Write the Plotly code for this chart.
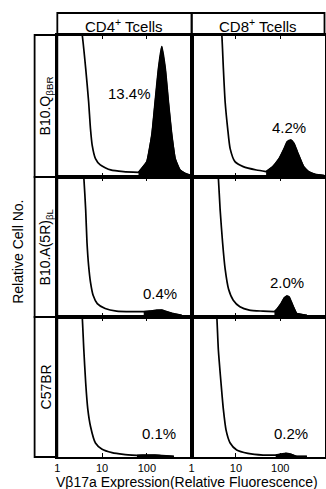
import math
import plotly.graph_objects as go

# ---------------- data ----------------
col_titles = ["CD4<sup>+</sup> Tcells", "CD8<sup>+</sup> Tcells"]
row_titles = ["B10.Q<sub>βBR</sub>", "B10.A(5R)<sub>βL</sub>", "C57BR"]
tick_vals = [1, 10, 100]
tick_text = ["1", "10", "100"]
pct_labels = ["13.4%", "4.2%", "0.4%", "2.0%", "0.1%", "0.2%"]
pct_x = [40, 160, 195, 145, 182, 174]
pct_y = [0.59, 0.35, 0.17, 0.25, 0.165, 0.165]

# panel 1: CD4, B10.Q
neg1_x = [3.3, 3.6, 4.3, 5.0, 5.5, 6.0, 7.1, 9.1, 15.5, 30, 65]
neg1_y = [1.08, 1.0, 0.765, 0.53, 0.34, 0.225, 0.13, 0.085, 0.05, 0.038, 0.033]
pos1_x = [65, 100, 129, 153, 182, 215, 257, 302, 360, 427, 550, 708, 912]
pos1_y = [0.033, 0.108, 0.296, 0.53, 0.765, 0.918, 0.765, 0.53, 0.296, 0.131, 0.049, 0.026, 0.014]
# panel 2: CD8, B10.Q
neg2_x = [4.5, 4.8, 5.2, 5.7, 6.5, 7.4, 9.5, 14.6, 29, 48]
neg2_y = [1.08, 1.0, 0.765, 0.53, 0.343, 0.2, 0.108, 0.073, 0.049, 0.038]
pos2_x = [48, 68, 95, 123, 145, 174, 204, 243, 288, 339, 437, 617, 1000]
pos2_y = [0.038, 0.073, 0.131, 0.2, 0.249, 0.26, 0.237, 0.178, 0.12, 0.073, 0.038, 0.019, 0.01]
# panel 3: CD4, B10.A(5R)
neg3_x = [3.7, 3.9, 4.3, 4.6, 5.0, 5.5, 6.3, 7.8, 11.7, 21, 50, 85]
neg3_y = [1.08, 1.0, 0.765, 0.53, 0.366, 0.249, 0.155, 0.096, 0.061, 0.042, 0.038, 0.038]
pos3_x = [85, 117, 166, 214, 275, 363, 600]
pos3_y = [0.038, 0.042, 0.049, 0.049, 0.038, 0.026, 0.012]
# panel 4: CD8, B10.A(5R)
neg4_x = [3.8, 4.0, 4.4, 5.0, 5.7, 6.8, 8.7, 12.3, 20, 41, 74]
neg4_y = [1.08, 1.0, 0.765, 0.53, 0.343, 0.2, 0.12, 0.073, 0.049, 0.042, 0.038]
pos4_x = [74, 87, 105, 123, 141, 158, 178, 204, 234, 400]
pos4_y = [0.038, 0.061, 0.096, 0.136, 0.15, 0.143, 0.108, 0.061, 0.026, 0.012]
# panel 5: CD4, C57BR
neg5_x = [3.4, 3.6, 3.9, 4.3, 4.8, 5.5, 7.1, 10, 16.6, 30, 60]
neg5_y = [1.08, 1.0, 0.77, 0.53, 0.34, 0.22, 0.10, 0.055, 0.031, 0.019, 0.012]
pos5_x = [60, 100, 150, 220, 400]
pos5_y = [0.012, 0.014, 0.014, 0.01, 0.005]
# panel 6: CD8, C57BR
neg6_x = [3.5, 3.7, 4.0, 4.6, 5.2, 6.0, 7.4, 10.4, 18.6, 41, 79]
neg6_y = [1.08, 1.0, 0.77, 0.53, 0.34, 0.19, 0.10, 0.05, 0.026, 0.014, 0.014]
pos6_x = [79, 104, 134, 173, 224, 400]
pos6_y = [0.014, 0.02, 0.026, 0.02, 0.007, 0.004]

negs = [(neg1_x, neg1_y), (neg2_x, neg2_y), (neg3_x, neg3_y),
        (neg4_x, neg4_y), (neg5_x, neg5_y), (neg6_x, neg6_y)]
poss = [(pos1_x, pos1_y), (pos2_x, pos2_y), (pos3_x, pos3_y),
        (pos4_x, pos4_y), (pos5_x, pos5_y), (pos6_x, pos6_y)]

# ---------------- layout geometry ----------------
W, H = 326, 489
def px(x): return x / W
def py(y): return 1 - y / H

col_px = [(55, 191), (191, 325.5)]
row_px = [(35, 177), (177, 317), (317, 457)]
FONT = "Liberation Sans, Arial, sans-serif"

fig = go.Figure()
layout = dict(width=W, height=H, margin=dict(l=0, r=0, t=0, b=0),
              paper_bgcolor="white", plot_bgcolor="white", showlegend=False,
              font=dict(family=FONT, color="black"))
annotations = []
shapes = []

def ann(text, x, y, xref="paper", yref="paper", size=14, angle=0):
    return dict(text=text, x=x, y=y, xref=xref, yref=yref, showarrow=False,
                xanchor="center", yanchor="middle", textangle=angle,
                font=dict(size=size, family=FONT, color="black"))

for i in range(6):
    r, c = divmod(i, 2)
    n = i + 1
    xa = "xaxis" if n == 1 else f"xaxis{n}"
    ya = "yaxis" if n == 1 else f"yaxis{n}"
    xr = "x" if n == 1 else f"x{n}"
    yr = "y" if n == 1 else f"y{n}"
    layout[xa] = dict(type="log", range=[0, 3], domain=[px(col_px[c][0]), px(col_px[c][1])],
                      anchor=yr, showgrid=False, zeroline=False,
                      showline=True, linecolor="black", linewidth=1.8, mirror="ticks",
                      ticks="inside", ticklen=4, tickwidth=1.4, tickcolor="black",
                      tickvals=tick_vals, ticktext=tick_text,
                      showticklabels=(r == 2), tickfont=dict(size=11, family=FONT, color="black"))
    layout[ya] = dict(range=[0, 1], domain=[py(row_px[r][1]), py(row_px[r][0])],
                      anchor=xr, showgrid=False, zeroline=False, showticklabels=False,
                      showline=True, linecolor="black", linewidth=1.8, mirror=True, ticks="")
    nx, ny = negs[i]
    qx, qy = poss[i]
    fig.add_trace(go.Scatter(x=qx, y=qy, mode="lines", fill="tozeroy",
                             fillcolor="black", line=dict(color="black", width=1.2),
                             xaxis=xr, yaxis=yr, hoverinfo="skip"))
    fig.add_trace(go.Scatter(x=nx + qx, y=ny + qy, mode="lines",
                             line=dict(color="black", width=1.7, shape="spline", smoothing=0.6),
                             xaxis=xr, yaxis=yr, hoverinfo="skip"))
    annotations.append(ann(pct_labels[i], math.log10(pct_x[i]), pct_y[i], xr, yr, size=15))

# header boxes
for c in range(2):
    shapes.append(dict(type="rect", xref="paper", yref="paper",
                       x0=px(col_px[c][0]), x1=px(col_px[c][1]), y0=py(35), y1=py(13),
                       line=dict(color="black", width=1.8)))
    annotations.append(ann(col_titles[c], px((col_px[c][0] + col_px[c][1]) / 2), py(25), size=15))
# row label boxes
for r in range(3):
    shapes.append(dict(type="rect", xref="paper", yref="paper",
                       x0=px(32), x1=px(55), y0=py(row_px[r][1]), y1=py(row_px[r][0]),
                       line=dict(color="black", width=1.8)))
    annotations.append(ann(row_titles[r], px(44), py((row_px[r][0] + row_px[r][1]) / 2),
                           size=14, angle=-90))

annotations.append(ann("Relative Cell No.", px(15), py(252), size=14, angle=-90))
annotations.append(ann("Vβ17a Expression(Relative Fluorescence)", px(186), py(481.5), size=14))

layout["annotations"] = annotations
layout["shapes"] = shapes
fig.update_layout(**layout)
fig.write_html("out.html", config={"displayModeBar": False},
               post_script="document.body.style.margin='0';")
